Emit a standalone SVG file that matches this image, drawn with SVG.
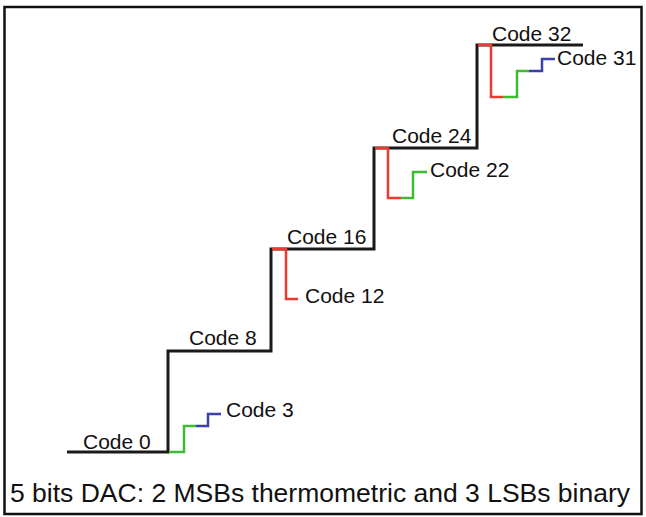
<svg xmlns="http://www.w3.org/2000/svg" width="646" height="517" viewBox="0 0 646 517">
<style>
.lbl{font-family:"Liberation Sans",Arial,sans-serif;font-size:21px;fill:#111}
.cap{font-family:"Liberation Sans",Arial,sans-serif;font-size:26.5px;fill:#111}
.stair{fill:none;stroke:#1a1a1a;stroke-width:3}
.red{fill:none;stroke:#ec3a2e;stroke-width:2.5}
.green{fill:none;stroke:#3dbb34;stroke-width:2.5}
.blue{fill:none;stroke:#3b40aa;stroke-width:2.5}
</style>
<rect x="0" y="0" width="646" height="517" fill="#fff"/>
<rect id="frame" x="4.5" y="7" width="637" height="507" fill="none" stroke="#111" stroke-width="2.5"/>
<g id="connectors">
<path class="stair" d="M67,452 H168 V351 H271 V249 H374 V148 H477 V45 H583"/>
<path class="red" d="M272,249 H286 V299 H298"/>
<path class="red" d="M375,148 H388 V198 H401"/>
<path class="red" d="M478,45 H491 V97 H503"/>
<path class="green" d="M169,452 H184 V426 H196"/>
<path class="green" d="M401,198 H413 V172 H427"/>
<path class="green" d="M503,97 H517 V71 H529"/>
<path class="blue" d="M196,426 H208 V414 H221"/>
<path class="blue" d="M529,71 H542 V59 H555"/>
</g>
<g id="code0"><text class="lbl" x="83" y="449">Code 0</text></g>
<g id="code3"><text class="lbl" x="226" y="417">Code 3</text></g>
<g id="code8"><text class="lbl" x="189" y="345">Code 8</text></g>
<g id="code12"><text class="lbl" x="305" y="303">Code 12</text></g>
<g id="code16"><text class="lbl" x="287" y="244">Code 16</text></g>
<g id="code22"><text class="lbl" x="430" y="177">Code 22</text></g>
<g id="code24"><text class="lbl" x="392" y="143">Code 24</text></g>
<g id="code31"><text class="lbl" x="557" y="65">Code 31</text></g>
<g id="code32"><text class="lbl" x="492" y="41">Code 32</text></g>
<g id="caption"><text class="cap" x="10" y="502">5 bits DAC: 2 MSBs thermometric and 3 LSBs binary</text></g>
</svg>
